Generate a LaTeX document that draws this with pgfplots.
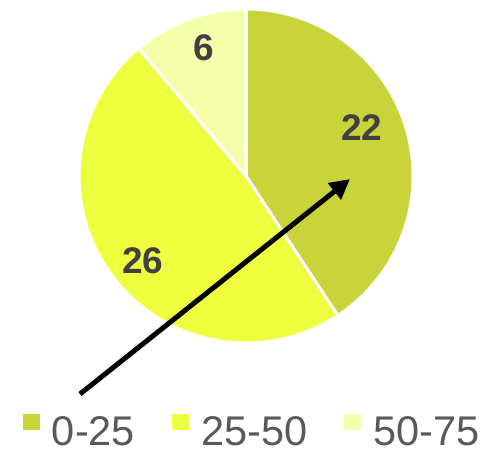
\documentclass[border=0pt]{standalone}
\usepackage{fontspec}
\setmainfont{Liberation Sans}
\usepackage{pgfplots}
\pgfplotsset{compat=1.18}
\usetikzlibrary{arrows.meta}

\definecolor{sA}{HTML}{C8D43A}
\definecolor{sB}{HTML}{EEFF3F}
\definecolor{sC}{HTML}{F4FFAA}
\definecolor{lbl}{HTML}{404040}
\definecolor{leg}{HTML}{595959}

% slice values
\def\vA{22}
\def\vB{26}
\def\vC{6}

\begin{document}
\begin{tikzpicture}
  \pgfmathsetmacro{\tot}{\vA+\vB+\vC}
  \pgfmathsetmacro{\aA}{90-\vA/\tot*360}
  \pgfmathsetmacro{\aB}{\aA-\vB/\tot*360}
  \pgfmathsetmacro{\aC}{\aB-\vC/\tot*360}
  \def\R{167pt}
  \begin{axis}[
    hide axis,
    x=1pt, y=1pt,
    xmin=0, xmax=490, ymin=0, ymax=453,
    y dir=reverse,
    clip=false,
    legend columns=3,
    legend image code/.code={\fill[#1, draw=none] (0pt,2pt) rectangle (17pt,18pt);},
    legend style={
      at={(axis cs:23,430.5)}, anchor=west,
      draw=none, fill=none, inner sep=0pt, outer sep=0pt,
      font=\fontsize{41.5}{41.5}\selectfont, text=leg,
      nodes={inner sep=0pt},
      /tikz/every odd column/.append style={column sep=12pt},
      /tikz/every even column/.append style={column sep=37pt},
    },
  ]
    % keep the full canvas in the bounding box
    \path (axis cs:0,0) (axis cs:490,453);

    \filldraw[fill=sA, draw=white, line width=3pt]
      (axis cs:246,176) -- ++(90:\R) arc[start angle=90, end angle=\aA, radius=\R] -- cycle;
    \filldraw[fill=sB, draw=white, line width=3pt]
      (axis cs:246,176) -- ++(\aA:\R) arc[start angle=\aA, end angle=\aB, radius=\R] -- cycle;
    \filldraw[fill=sC, draw=white, line width=3pt]
      (axis cs:246,176) -- ++(\aB:\R) arc[start angle=\aB, end angle=\aC, radius=\R] -- cycle;

    \node[text=lbl, font=\fontsize{37}{37}\selectfont\bfseries] at (axis cs:362,128) {\vA};
    \node[text=lbl, font=\fontsize{37}{37}\selectfont\bfseries] at (axis cs:143,261) {\vB};
    \node[text=lbl, font=\fontsize{37}{37}\selectfont\bfseries] at (axis cs:204,48) {\vC};

    \draw[line width=5pt, -{Triangle[length=20pt, width=20pt]}]
      (axis cs:80,394) -- (axis cs:350,179);

    \addlegendimage{fill=sA}
    \addlegendentry{0-25}
    \addlegendimage{fill=sB}
    \addlegendentry{25-50}
    \addlegendimage{fill=sC}
    \addlegendentry{50-75}
  \end{axis}
\end{tikzpicture}
\end{document}
